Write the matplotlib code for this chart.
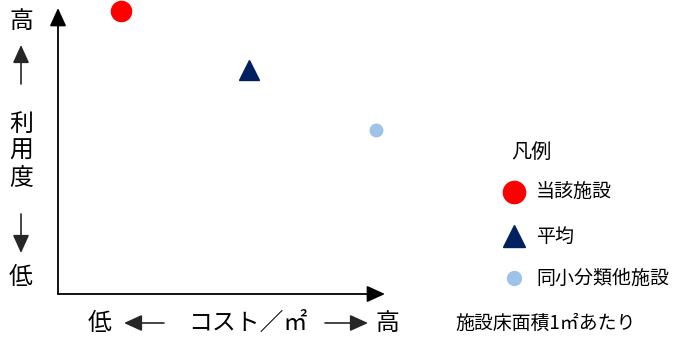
import matplotlib
matplotlib.use("Agg")
import matplotlib.pyplot as plt

plt.rcParams['font.family'] = ['Noto Sans CJK JP', 'DejaVu Sans']

# Data (relative positions on cost / usage axes, 0-100)
series_names = ["当該施設", "平均", "同小分類他施設"]
cost_values = [19.3, 58.4, 97.2]
usage_values = [99.0, 78.3, 57.3]
marker_styles = ["o", "^", "o"]
marker_colors = ["#ff0000", "#002060", "#9dc3e6"]
marker_sizes = [14.5, 15, 9]

W, H = 673, 341
fig = plt.figure(figsize=(W / 100, H / 100), dpi=100)

def fx(px):
    return px / W

def fy(py):
    return 1 - py / H

ax = fig.add_axes([fx(58), fy(294), fx(385) - fx(58), fy(8) - fy(294)])
ax.set_xlim(0, 100)
ax.set_ylim(0, 100)
for s in ax.spines.values():
    s.set_visible(False)
ax.set_xticks([])
ax.set_yticks([])
ax.patch.set_alpha(0)

astyle = '-|>,head_length=0.55,head_width=0.25'
ax.annotate('', xy=(1, 0), xytext=(0, 0), xycoords='axes fraction',
            arrowprops=dict(arrowstyle=astyle, color='black', lw=1.3,
                            mutation_scale=20, shrinkA=0, shrinkB=0))
ax.annotate('', xy=(0, 1), xytext=(0, 0), xycoords='axes fraction',
            arrowprops=dict(arrowstyle=astyle, color='black', lw=1.3,
                            mutation_scale=20, shrinkA=0, shrinkB=0))

for x, y, m, c, s in zip(cost_values, usage_values, marker_styles, marker_colors, marker_sizes):
    ax.plot([x], [y], marker=m, color=c, markersize=s, linestyle='none', clip_on=False)

# Y-axis label column
big = 17.2
fig.text(fx(21), fy(22), "高", fontsize=big, ha='center', va='center')
for ch, py in zip("利用度", [124, 151, 178]):
    fig.text(fx(21), fy(py), ch, fontsize=big, ha='center', va='center')
fig.text(fx(21), fy(278), "低", fontsize=big, ha='center', va='center')

def fig_arrow(x0, y0, x1, y1):
    fig.add_artist(matplotlib.patches.FancyArrowPatch(
        (fx(x0), fy(y0)), (fx(x1), fy(y1)), transform=fig.transFigure,
        arrowstyle=astyle, mutation_scale=20, color='#262626', lw=1.2,
        shrinkA=0, shrinkB=0))

fig_arrow(21, 84, 21, 45)
fig_arrow(21, 214, 21, 253)

# X-axis label row
fig.text(fx(100), fy(323), "低", fontsize=big, ha='center', va='center')
fig_arrow(164, 323, 124, 323)
fig.text(fx(248), fy(323), "コスト／㎡", fontsize=big, ha='center', va='center')
fig_arrow(325, 323, 368, 323)
fig.text(fx(387), fy(323), "高", fontsize=big, ha='center', va='center')
fig.text(fx(546), fy(323), "施設床面積1㎡あたり", fontsize=13.6, ha='center', va='center')

# Legend
fig.text(fx(511), fy(152), "凡例", fontsize=14.5, ha='left', va='center')
leg_y = [192, 236, 278]
leg_sizes = [16, 16, 10]
for name, m, c, s, py in zip(series_names, marker_styles, marker_colors, leg_sizes, leg_y):
    fig.add_artist(matplotlib.lines.Line2D([fx(514)], [fy(py)], marker=m, color=c,
                                           markersize=s, linestyle='none',
                                           transform=fig.transFigure))
    fig.text(fx(536), fy(py), name, fontsize=13.7, ha='left', va='center')

fig.savefig("out.png", dpi=100)
